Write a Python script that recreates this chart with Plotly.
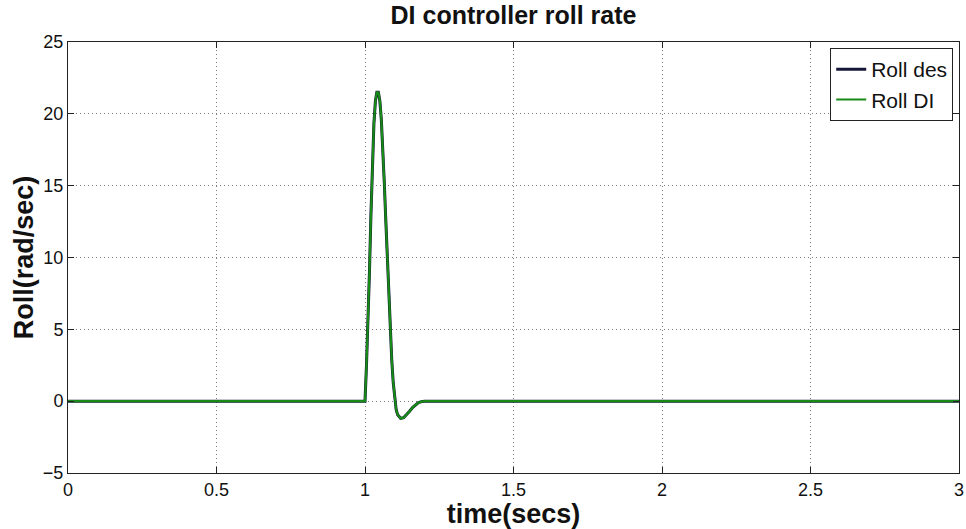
import plotly.graph_objects as go

time_s = [0, 1.0, 1.005, 1.01, 1.015, 1.02, 1.025, 1.03, 1.035, 1.04, 1.045, 1.05,
          1.055, 1.06, 1.065, 1.07, 1.075, 1.08, 1.085, 1.09, 1.095, 1.10, 1.105,
          1.11, 1.12, 1.13, 1.14, 1.15, 1.16, 1.17, 1.18, 1.19, 1.2, 3.0]
roll_des = [0, 0, 2.5, 5.5, 9, 13, 16.5, 19.3, 20.9, 21.5, 21.5, 20.9,
            19.6, 17.6, 15.2, 12.6, 9.9, 7.3, 4.9, 2.9, 1.3, 0.1, -0.6,
            -0.95, -1.2, -1.15, -0.95, -0.7, -0.45, -0.25, -0.1, -0.03, 0, 0]
roll_di = [0, 0, 2.5, 5.5, 9, 13, 16.5, 19.3, 20.9, 21.5, 21.5, 20.9,
           19.6, 17.6, 15.2, 12.6, 9.9, 7.3, 4.9, 2.9, 1.3, 0.1, -0.6,
           -0.95, -1.2, -1.15, -0.95, -0.7, -0.45, -0.25, -0.1, -0.03, 0, 0]
x_ticks = [0, 0.5, 1, 1.5, 2, 2.5, 3]
x_tick_labels = ["0", "0.5", "1", "1.5", "2", "2.5", "3"]
y_ticks = [-5, 0, 5, 10, 15, 20, 25]

FONT = "Liberation Sans, Arial"
W, H = 966, 529

fig = go.Figure()
fig.add_trace(go.Scatter(x=time_s, y=roll_des, mode="lines", name="Roll des",
                         line=dict(color="#161638", width=3)))
fig.add_trace(go.Scatter(x=time_s, y=roll_di, mode="lines", name="Roll DI",
                         line=dict(color="#178a17", width=2.2)))

axis_common = dict(
    showline=True, linecolor="#222222", linewidth=1, mirror="ticks",
    ticks="inside", ticklen=6, tickcolor="#222222",
    showgrid=True, gridcolor="#7a7a7a", griddash="1px,3px", gridwidth=1,
    zeroline=False, automargin=False, ticklabeloverflow="allow",
    tickfont=dict(family=FONT, size=18, color="#111111"),
)

fig.update_layout(
    width=W, height=H,
    margin=dict(l=68, r=7, t=42, b=56),
    paper_bgcolor="white", plot_bgcolor="white",
    title=dict(text="<b>DI controller roll rate</b>", x=(68 + 959) / 2 / W, xanchor="center",
               y=1 - 15 / H, yanchor="middle",
               font=dict(family=FONT, size=25, color="#111111")),
    xaxis=dict(range=[0, 3], tickvals=x_ticks, ticktext=x_tick_labels,
               title=dict(text="<b>time(secs)</b>", standoff=1,
                          font=dict(family=FONT, size=27, color="#111111")),
               **axis_common),
    yaxis=dict(range=[-5, 25], tickvals=y_ticks,
               title=dict(text="<b>Roll(rad/sec)</b>", standoff=1,
                          font=dict(family=FONT, size=27, color="#111111")),
               **axis_common),
    legend=dict(x=0.9935, y=0.986, xanchor="right", yanchor="top",
                bgcolor="white", bordercolor="#222222", borderwidth=1,
                font=dict(family=FONT, size=21, color="#111111"),
                tracegroupgap=0, itemwidth=30),
    showlegend=True,
)

fig.write_html("out.html", config={"displayModeBar": False},
               post_script="document.body.style.margin='0';")
